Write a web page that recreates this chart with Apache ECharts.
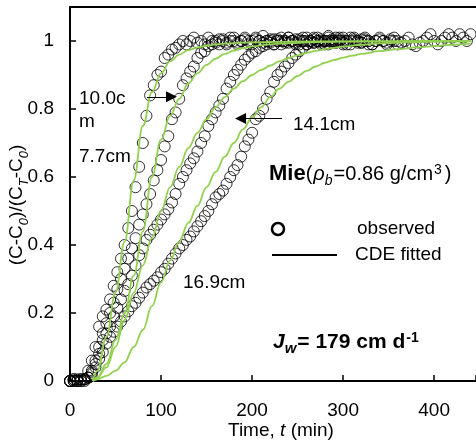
<!DOCTYPE html>
<html><head><meta charset="utf-8">
<script src="https://cdn.jsdelivr.net/npm/echarts@6/dist/echarts.min.js"></script>
<style>html,body{margin:0;padding:0;background:#fff}#c{width:476px;height:446px}</style>
</head><body><div id="c"></div>
<script>
const FONT = "'Liberation Sans', Arial, Helvetica, sans-serif";
const xTicks = [0, 100, 200, 300, 400];
const yTicks = [0, 0.2, 0.4, 0.6, 0.8, 1];

// observed breakthrough data (t in min, relative concentration)
const obs77 = [[0,0],[4,0.005],[8,0],[12,0.005],[16,0.005],[20,0.03],[24,0.06],[28,0.1],[32,0.16],[36,0.19],[40,0.21],[44,0.24],[48,0.28],[52,0.32],[56,0.36],[60,0.4],[64,0.45],[68,0.5],[72,0.57],[76,0.63],[80,0.7],[84,0.78],[88,0.84],[92,0.87],[96,0.9],[100,0.91],[104,0.95],[108,0.96],[112,0.975],[116,0.98],[120,0.99],
[124,1.0],[128,0.99],[132,1.0],[136,1.01],[140,0.995],[144,1.0],[148,0.99],[152,1.01],[156,1.0],[160,0.995],[164,1.005],[168,1.0],[172,0.99],[176,1.0],[180,1.01],[184,0.995],[188,1.0],[192,1.005],[196,0.99],[200,1.0],[204,1.01],[208,1.0],[212,0.995],[216,1.0],[220,1.005],[224,0.99],[228,1.0],[232,1.01],[236,1.0],[240,0.995],[244,1.0],[248,1.005],[252,0.99],[256,1.0],[260,1.01],[264,1.0],[268,0.995],[272,1.0],[276,1.005],[280,1.0],[284,0.99],[288,1.0],[292,1.01],[296,1.0],[300,0.995]];
const obs100 = [[0,0],[4,0],[8,0.005],[12,0],[16,0.005],[20,0.01],[24,0.03],[28,0.06],[32,0.1],[36,0.14],[40,0.17],[44,0.2],[48,0.23],[52,0.27],[56,0.3],[60,0.33],[64,0.36],[68,0.39],[72,0.42],[76,0.46],[80,0.49],[84,0.52],[88,0.55],[92,0.59],[96,0.62],[100,0.65],[104,0.69],[108,0.72],[112,0.77],[116,0.79],[120,0.83],[124,0.87],[128,0.89],[132,0.91],[136,0.925],[140,0.95],[144,0.965],[148,0.97],[152,0.985],[156,0.99],
[160,1.0],[164,0.99],[168,1.005],[172,0.995],[176,1.01],[180,1.0],[184,0.99],[188,1.0],[192,1.01],[196,1.0],[200,0.99],[204,1.005],[208,1.0],[212,1.015],[216,1.0],[220,0.995],[224,1.005],[228,1.0],[232,0.99],[236,1.0],[240,1.01],[244,1.0],[248,0.995],[252,1.005],[256,1.0],[260,0.99],[264,1.0],[268,1.01],[272,1.0],[276,0.995],[280,1.0],[284,1.01],[288,0.995],[292,1.0],[296,1.005],[300,0.99],[304,1.0],[308,1.01],[312,1.0],[316,0.995],[320,1.005],[324,1.0],[328,0.99]];
const obs141 = [[0,0],[4,0],[8,0],[12,0.005],[16,0],[20,0.01],[24,0.025],[28,0.05],[32,0.08],[36,0.12],[40,0.14],[44,0.16],[48,0.19],[52,0.215],[56,0.24],[60,0.265],[64,0.285],[68,0.31],[72,0.34],[76,0.37],[80,0.39],[84,0.415],[88,0.43],[92,0.445],[96,0.46],[100,0.475],[104,0.49],[108,0.505],[112,0.525],[116,0.55],[120,0.58],[124,0.6],[128,0.62],[132,0.64],[136,0.655],[140,0.675],[144,0.7],[148,0.72],[152,0.75],[156,0.77],[160,0.79],[164,0.81],[168,0.83],[172,0.86],[176,0.88],[180,0.9],[184,0.915],[188,0.93],[192,0.945],[196,0.955],[200,0.965],[204,0.97],[208,0.98],[212,0.985],[216,0.99],
[220,1.0],[224,0.99],[228,1.005],[232,1.0],[236,0.995],[240,1.01],[244,1.0],[248,0.99],[252,1.0],[256,1.01],[260,1.0],[264,0.995],[268,1.005],[272,1.0],[276,0.99],[280,1.0],[284,1.015],[288,1.0],[292,0.995],[296,1.0],[300,1.01],[304,1.0],[308,0.99],[312,1.005],[316,1.0],[320,0.995],[324,1.01],[328,1.0],[332,0.99],[336,1.0],[340,1.005],[344,1.0],[348,0.99],[352,1.0],[356,1.01],[360,1.0]];
const obs169 = [[0,0],[4,0.005],[8,0],[12,0],[16,0.005],[20,0.01],[24,0.02],[28,0.04],[32,0.065],[36,0.085],[40,0.11],[44,0.13],[48,0.145],[52,0.16],[56,0.175],[60,0.19],[64,0.205],[68,0.22],[72,0.23],[76,0.245],[80,0.26],[84,0.275],[88,0.285],[92,0.295],[96,0.305],[100,0.32],[104,0.33],[108,0.345],[112,0.36],[116,0.375],[120,0.39],[124,0.4],[128,0.415],[132,0.425],[136,0.44],[140,0.455],[144,0.47],[148,0.485],[152,0.5],[156,0.52],[160,0.54],[164,0.55],[168,0.56],[172,0.58],[176,0.6],[180,0.62],[184,0.635],[188,0.66],[192,0.69],[196,0.71],[200,0.73],[204,0.77],[208,0.78],[212,0.8],[216,0.83],[220,0.85],[224,0.88],[228,0.9],[232,0.91],[236,0.925],[240,0.935],[244,0.95],[248,0.96],[252,0.97],[256,0.98],[260,0.99],
[264,1.0],[268,0.995],[272,1.01],[276,1.0],[280,0.99],[284,1.0],[288,1.005],[292,0.995],[296,1.01],[300,1.0],[304,0.99],[308,1.0],[312,1.01],[316,1.0],[320,0.995],[324,1.005],[328,1.0],[332,0.99],[336,1.0],[340,1.01],[344,1.0],[348,0.995],[352,1.005],[356,1.0],[360,0.99],[364,0.995],[368,1.0],[372,1.01],[376,0.99],[380,0.985],[384,0.995],[388,1.0],[392,1.01],[396,1.02],[400,1.0],[404,0.99],[408,1.0],[412,1.01],[416,1.02],[420,1.01],[424,1.0],[428,1.02],[432,1.01],[436,1.0],[440,1.02]];

// CDE fitted curves
const fit77 = [[25,0],[30,0.03],[40,0.13],[50,0.26],[60,0.41],[70,0.59],[80,0.75],[90,0.85],[100,0.905],[110,0.94],[120,0.96],[130,0.973],[140,0.981],[150,0.986],[160,0.99],[180,0.994],[200,0.996],[240,0.998],[300,0.999],[440,1.0]];
const fit100 = [[25,0],[30,0.01],[40,0.05],[50,0.12],[60,0.2],[70,0.31],[80,0.44],[90,0.6],[100,0.71],[110,0.78],[120,0.83],[130,0.875],[140,0.905],[150,0.93],[160,0.948],[170,0.962],[180,0.972],[190,0.979],[200,0.984],[220,0.99],[240,0.994],[270,0.997],[320,0.999],[440,1.0]];
const fit141 = [[25,0],[30,0.01],[40,0.04],[50,0.1],[60,0.18],[70,0.26],[80,0.34],[90,0.42],[100,0.5],[110,0.57],[120,0.63],[130,0.685],[140,0.73],[150,0.77],[160,0.805],[170,0.835],[180,0.86],[190,0.882],[200,0.9],[210,0.915],[220,0.928],[230,0.94],[240,0.95],[250,0.958],[260,0.965],[270,0.971],[280,0.976],[290,0.98],[300,0.984],[320,0.989],[340,0.993],[370,0.996],[400,0.998],[440,0.999]];
const fit169 = [[25,0],[30,0.005],[40,0.015],[50,0.03],[60,0.055],[70,0.1],[80,0.15],[90,0.22],[100,0.29],[110,0.355],[120,0.41],[130,0.465],[140,0.515],[150,0.57],[160,0.615],[170,0.66],[180,0.7],[190,0.74],[200,0.775],[210,0.805],[220,0.835],[230,0.86],[240,0.88],[250,0.897],[260,0.912],[270,0.925],[280,0.936],[290,0.944],[300,0.951],[310,0.957],[320,0.962],[340,0.97],[360,0.976],[380,0.981],[400,0.985],[420,0.989],[440,0.992]];

// annotation arrows (data coordinates: start -> head)
const arrow10 = [[84.6, 0.836], [111.5, 0.836]];
const arrow141 = [[233, 0.772], [187.4, 0.772]];

const GREEN = '#92D050';
const scat = (data) => ({type:'scatter', name:'observed', data, symbol:'circle', symbolSize:11,
  itemStyle:{color:'rgba(0,0,0,0)', borderColor:'#000', borderWidth:1}, silent:true, z:2});
const fit = (data, extra) => Object.assign({type:'line', name:'CDE fitted', data, showSymbol:false, symbol:'none',
  smooth:0.4, smoothMonotone:'x', lineStyle:{color:GREEN, width:1.8}, silent:true, z:3}, extra || {});

const tBase = {fontFamily:FONT, color:'#000', fontWeight:'normal', fontSize:19};
const rich = {
  n:{fontFamily:FONT, color:'#000', fontSize:19, lineHeight:28},
  i:{fontFamily:FONT, color:'#000', fontSize:19, fontStyle:'italic', lineHeight:28},
  m:{fontFamily:FONT, color:'#000', fontSize:20, lineHeight:28},
  mi:{fontFamily:FONT, color:'#000', fontSize:20, fontStyle:'italic', lineHeight:28, padding:[0,0,0,1]},
  b:{fontFamily:FONT, color:'#000', fontSize:22, fontWeight:'bold', lineHeight:28},
  sub:{fontFamily:FONT, color:'#000', fontSize:14, fontStyle:'italic', verticalAlign:'bottom', padding:[0,1,0,0]},
  sup:{fontFamily:FONT, color:'#000', fontSize:14, verticalAlign:'top', padding:[3,3,0,1]},
  bb:{fontFamily:FONT, color:'#000', fontSize:21, fontWeight:'bold', lineHeight:28},
  bi:{fontFamily:FONT, color:'#000', fontSize:21, fontWeight:'bold', fontStyle:'italic', lineHeight:28},
  bsub:{fontFamily:FONT, color:'#000', fontSize:15, fontWeight:'bold', fontStyle:'italic', verticalAlign:'bottom', padding:[0,1,0,0]},
  bsup:{fontFamily:FONT, color:'#000', fontSize:14, fontWeight:'bold', verticalAlign:'top', padding:[3,0,0,1]}
};

const chart = echarts.init(document.getElementById('c'), null, {renderer:'canvas'});
chart.setOption({
  animation:false,
  backgroundColor:'#fff',
  textStyle:{fontFamily:FONT},
  grid:{left:70, right:0, top:7, bottom:65, outerBoundsMode:'none'},
  xAxis:[{
    type:'value', min:0, max:446, interval:100,
    axisLine:{show:true, onZero:false, lineStyle:{color:'#000', width:2}},
    axisTick:{show:true, inside:true, length:6, lineStyle:{color:'#000', width:1.5}},
    axisLabel:{fontSize:19, fontFamily:FONT, color:'#000', margin:20,
      formatter: v => xTicks.includes(v) ? String(v) : ''},
    splitLine:{show:false}
  },{
    type:'value', position:'top', min:0, max:446,
    axisLine:{show:true, onZero:false, lineStyle:{color:'#000', width:2}},
    axisTick:{show:false}, axisLabel:{show:false}, splitLine:{show:false}
  }],
  yAxis:{
    type:'value', min:0, max:1.1, interval:0.2,
    axisLine:{show:true, lineStyle:{color:'#000', width:2}},
    axisTick:{show:true, inside:true, length:6, lineStyle:{color:'#000', width:1.5}},
    axisLabel:{fontSize:19, fontFamily:FONT, color:'#000', margin:16,
      formatter: v => { const m = yTicks.find(t => Math.abs(t - v) < 1e-6); return m === undefined ? '' : String(m); }},
    splitLine:{show:false}
  },
  title:[
    {text:'10.0c\nm', left:79, top:87, padding:0, textStyle:Object.assign({}, tBase, {lineHeight:23})},
    {text:'7.7cm', left:79, top:146, padding:0, textStyle:Object.assign({}, tBase, {lineHeight:22})},
    {text:'14.1cm', left:293, top:114, padding:0, textStyle:Object.assign({}, tBase, {lineHeight:22})},
    {text:'16.9cm', left:183, top:272, padding:0, textStyle:Object.assign({}, tBase, {lineHeight:22})},
    {text:'observed', left:357, top:218, padding:0, textStyle:Object.assign({}, tBase, {lineHeight:22})},
    {text:'CDE fitted', left:355, top:244, padding:0, textStyle:Object.assign({}, tBase, {lineHeight:22})},
    {text:'{b|Mie}{m|(}{mi|ρ}{sub|b}{m|=0.86 g/cm}{sup|3}{m|)}', left:269, top:160, padding:0, textStyle:Object.assign({}, tBase, {rich})},
    {text:'{bi|J}{bsub|w}{bb|= 179 cm d}{bsup|-1}', left:273, top:328, padding:0, textStyle:Object.assign({}, tBase, {rich})},
    {text:'{n|Time, }{i|t}{n| (min)}', left:228, top:417, padding:0, textStyle:Object.assign({}, tBase, {rich})}
  ],
  graphic:[
    {type:'text', x:17, y:205, rotation:Math.PI/2, silent:true,
      style:{legacy:false, text:'{n|(C-C}{s|0}{n|)/(C}{s|T}{n|-C}{s|0}{n|)}',
        fontSize:19, fontFamily:FONT, fill:'#000', align:'center', verticalAlign:'middle',
        rich:{n:{fontSize:19, fontFamily:FONT, fill:'#000', lineHeight:28},
              s:{fontSize:13, fontFamily:FONT, fontStyle:'italic', fill:'#000', verticalAlign:'bottom'}}}},
    {type:'circle', shape:{cx:278, cy:229, r:6}, style:{fill:'none', stroke:'#000', lineWidth:2.5}, silent:true},
    {type:'line', shape:{x1:272, y1:255, x2:337, y2:255}, style:{stroke:'#000', lineWidth:2}, silent:true}
  ],
  series:[
    scat(obs77), scat(obs100), scat(obs141), scat(obs169),
    fit(fit77, {markLine:{silent:true, symbol:['none','triangle'], symbolSize:11, label:{show:false},
      lineStyle:{color:'#000', width:1, type:'solid'}, itemStyle:{color:'#000'}, emphasis:{disabled:true},
      data:[
        [{coord:arrow10[0]}, {coord:arrow10[1]}],
        [{coord:arrow141[0]}, {coord:arrow141[1]}]
      ]}}),
    fit(fit100), fit(fit141), fit(fit169)
  ]
});
</script></body></html>
